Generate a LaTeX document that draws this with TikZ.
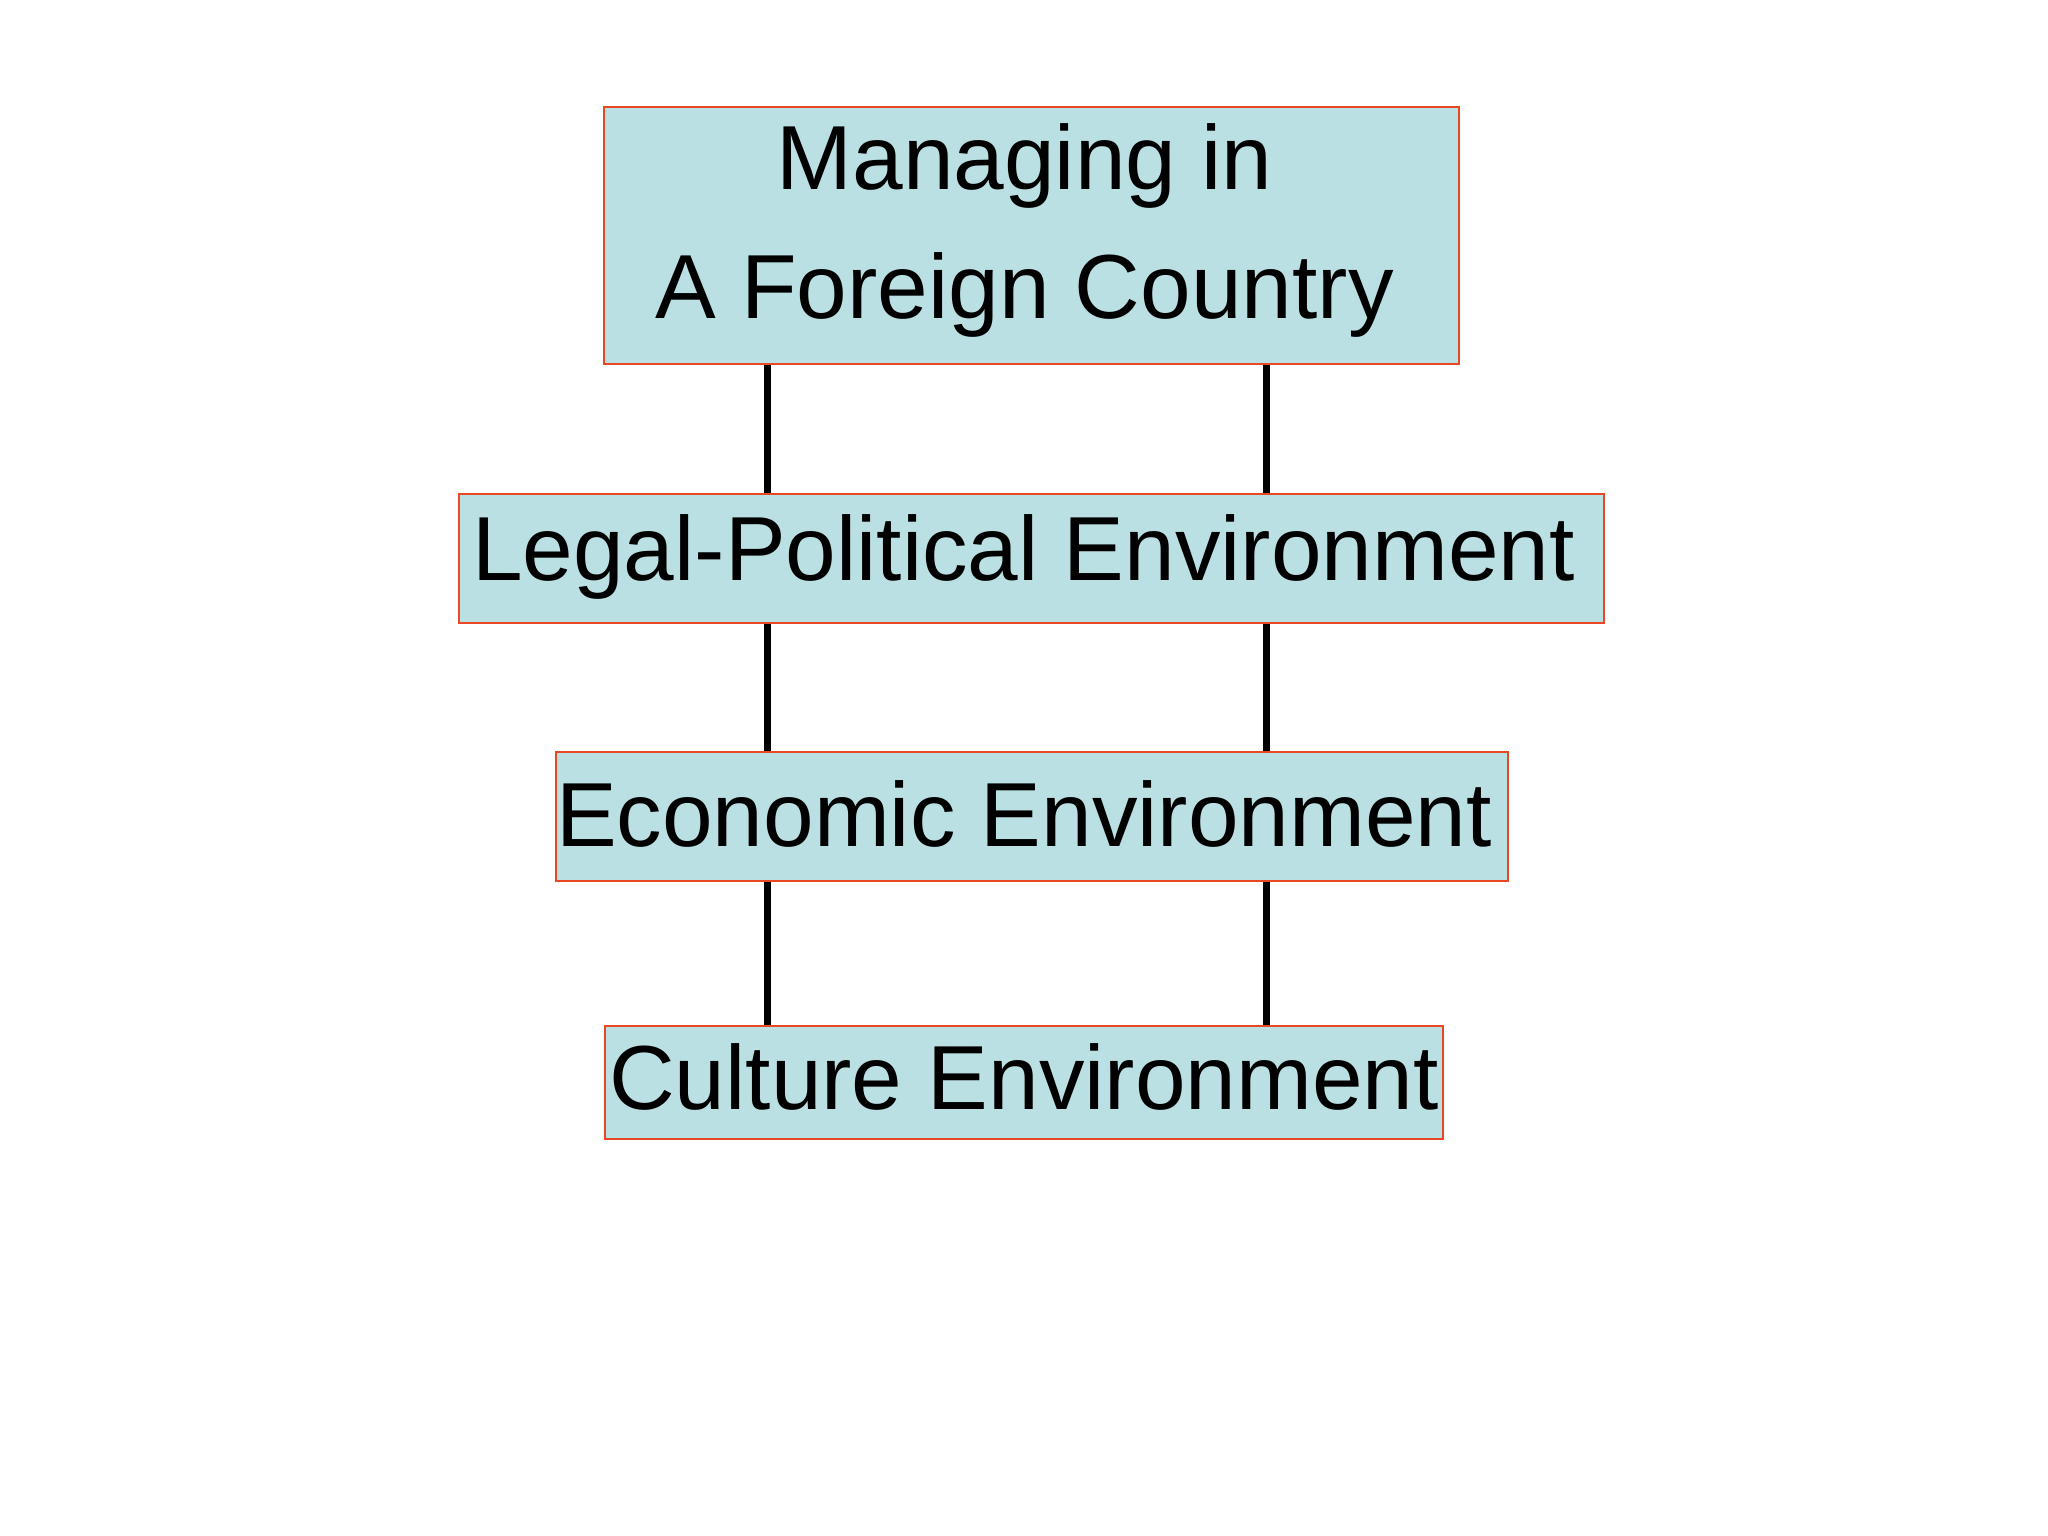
\documentclass[tikz,border=0pt]{standalone}
\usepackage{fontspec}
\setmainfont{Liberation Sans}
\definecolor{boxfill}{RGB}{187,224,227}
\definecolor{boxline}{RGB}{232,72,36}
\newcommand{\shifttxt}[3]{\raisebox{#2}[\height][\depth]{#3}\hspace*{#1}}
\begin{document}
\begin{tikzpicture}[x=1pt,y=-1pt,
  envbox/.style={draw=boxline, line width=2pt, fill=boxfill, inner sep=0pt,
    font=\fontsize{91}{129}\selectfont, align=center},
  link/.style={line width=7pt, black}]
\useasboundingbox (0,0) rectangle (2048,1536);
\node[envbox, minimum width=855pt, minimum height=257pt] (top) at (1031.5,235.5)
  {\shifttxt{14pt}{5pt}{Managing in}\\\shifttxt{14pt}{5pt}{A Foreign Country}};
\node[envbox, minimum width=1145pt, minimum height=129pt] (legal) at (1031.5,558.5)
  {\shifttxt{16pt}{2pt}{Legal-Political Environment}};
\node[envbox, minimum width=950pt, minimum height=129pt] (econ) at (1032,816.5)
  {\shifttxt{16pt}{3pt}{Economic Environment}};
\node[envbox, minimum width=838pt, minimum height=113pt] (cult) at (1024,1082.5)
  {\shifttxt{0pt}{6pt}{Culture Environment}};
\coordinate (L) at (767,0);
\coordinate (R) at (1266,0);
\draw[link] (top.south -| L) -- (legal.north -| L);
\draw[link] (top.south -| R) -- (legal.north -| R);
\draw[link] (legal.south -| L) -- (econ.north -| L);
\draw[link] (legal.south -| R) -- (econ.north -| R);
\draw[link] (econ.south -| L) -- (cult.north -| L);
\draw[link] (econ.south -| R) -- (cult.north -| R);
\end{tikzpicture}
\end{document}
